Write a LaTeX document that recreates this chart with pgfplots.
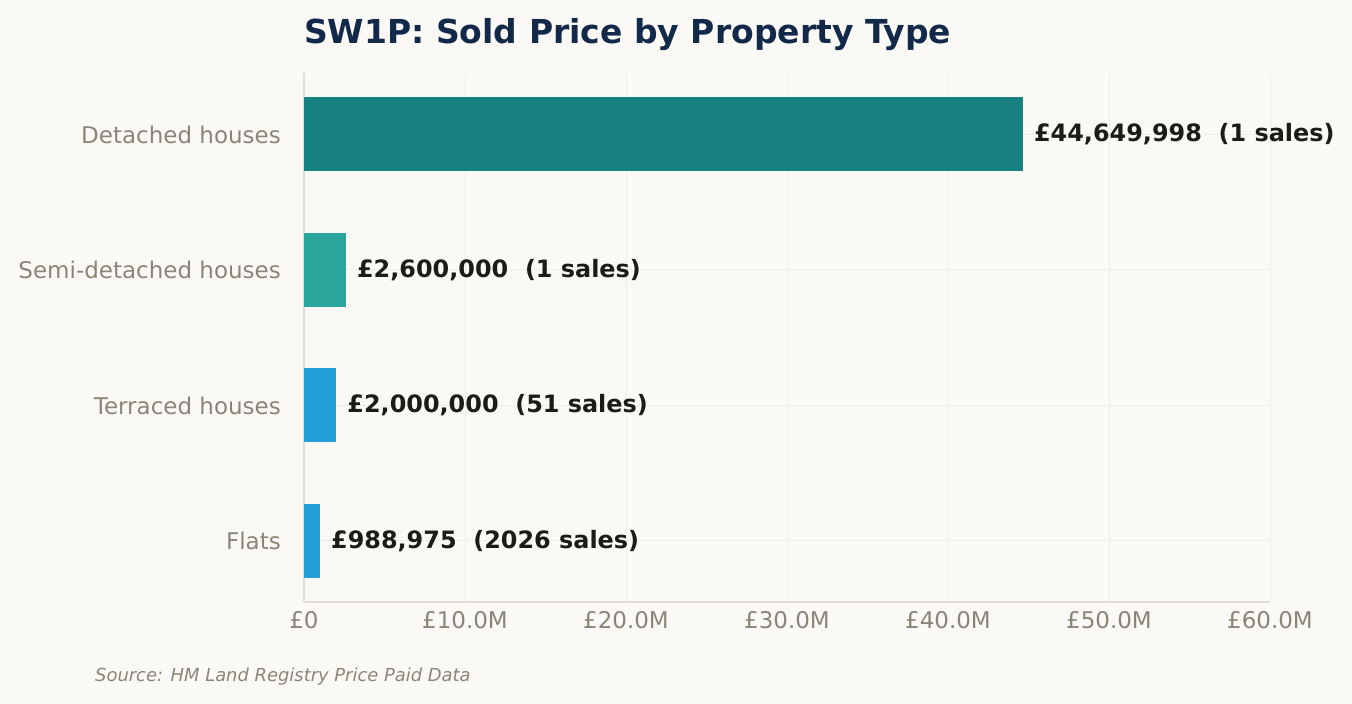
\documentclass[border=0pt]{standalone}
\usepackage{fontspec}
\setmainfont{DejaVu Sans}
\usepackage{pgfplots}
\pgfplotsset{compat=1.18}

\definecolor{bgcol}{HTML}{FAF9F5}
\definecolor{titlecol}{HTML}{12294A}
\definecolor{mutedcol}{HTML}{8A8677}
\definecolor{gridcol}{HTML}{EFEDE7}
\definecolor{axiscol}{HTML}{E2DDD0}
\definecolor{detcol}{HTML}{178080}
\definecolor{semicol}{HTML}{2AA59B}
\definecolor{tercol}{HTML}{239FDA}
\definecolor{labcol}{HTML}{1C1B18}

\begin{document}
\begin{tikzpicture}[x=1pt,y=1pt]
\fill[bgcol] (0,0) rectangle (1352,704);
\useasboundingbox (0,0) rectangle (1352,704);

\node[anchor=base west, inner sep=0pt, text=titlecol,
      font=\fontsize{33}{38}\selectfont\bfseries] at (304,660) {SW1P: Sold Price by Property Type};
\node[anchor=base west, inner sep=0pt, text=mutedcol,
      font=\fontsize{17.9}{22}\selectfont\itshape] at (95,22) {Source: HM Land Registry Price Paid Data};

\begin{axis}[
    at={(304pt,102pt)}, anchor=south west,
    scale only axis,
    width=966pt, height=529pt,
    xbar, bar width=74pt, bar shift=0pt,
    xmin=0, xmax=60,
    ymin=-0.45, ymax=3.45,
    axis x line*=bottom, axis y line*=left,
    axis line style={draw=axiscol, line width=1.5pt},
    xtick={0,10,20,30,40,50,60},
    xticklabels={£0,£10.0M,£20.0M,£30.0M,£40.0M,£50.0M,£60.0M},
    ytick={0,1,2,3},
    yticklabels={Flats,Terraced houses,Semi-detached houses,Detached houses},
    major tick length=0pt,
    grid=major,
    major grid style={draw=gridcol, line width=1pt},
    /pgf/number format/assume math mode=true,
    tick label style={text=mutedcol, font=\fontsize{23}{27}\selectfont, inner sep=0pt},
    xticklabel style={anchor=north, yshift=-9pt},
    yticklabel style={anchor=base east, xshift=-23pt, yshift=-9pt},
    nodes near coords style={anchor=base west, inner sep=0pt, xshift=11pt, yshift=-7.5pt,
        text=labcol, font=\fontsize{23.9}{27}\selectfont\bfseries},
    axis background/.style={fill=bgcol},
    clip=false,
]
\addplot[fill=detcol, draw=none,
    nodes near coords={£44,649,998\hspace{0.7em}(1 sales)}]
    coordinates {(44.649998,3)};
\addplot[fill=semicol, draw=none,
    nodes near coords={£2,600,000\hspace{0.7em}(1 sales)}]
    coordinates {(2.6,2)};
\addplot[fill=tercol, draw=none,
    nodes near coords={£2,000,000\hspace{0.7em}(51 sales)}]
    coordinates {(2.0,1)};
\addplot[fill=tercol, draw=none,
    nodes near coords={£988,975\hspace{0.7em}(2026 sales)}]
    coordinates {(0.988975,0)};
\end{axis}
\end{tikzpicture}
\end{document}
